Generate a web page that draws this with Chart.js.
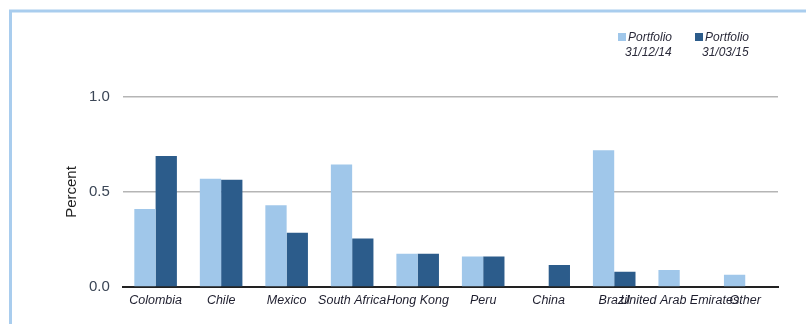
<!DOCTYPE html>
<html>
<head>
<meta charset="utf-8">
<script src="https://cdn.jsdelivr.net/npm/chart.js@4"></script>
<style>
    html, body { margin: 0; padding: 0; background: #fff; }
    #wrap { width: 806px; height: 324px; position: relative; }
</style>
</head>
<body>
<div id="wrap"><canvas id="country_chart"></canvas></div>
<script>
const countries = ['Colombia', 'Chile', 'Mexico', 'South Africa', 'Hong Kong', 'Peru', 'China', 'Brazil', 'United Arab Emirates', 'Other'];
const portfolioDec14 = [0.41, 0.57, 0.43, 0.645, 0.175, 0.16, 0, 0.72, 0.09, 0.064];
const portfolioMar15 = [0.69, 0.565, 0.285, 0.255, 0.175, 0.16, 0.116, 0.08, 0, 0];
const seriesLabels = [['Portfolio', '31/12/14'], ['Portfolio', '31/03/15']];
const yTicks = [0, 0.5, 1.0];

const lightBlue = '#a0c7ea';
const darkBlue = '#2c5c8b';

// frame around the chart + two line legend at top right
const framePlugin = {
    id: 'frame',
    beforeDraw: (chart) => {
        const ctx = chart.ctx;
        ctx.save();
        ctx.strokeStyle = '#a9cdee';
        ctx.lineWidth = 3;
        ctx.beginPath();
        ctx.moveTo(10.5, 324);
        ctx.lineTo(10.5, 11);
        ctx.lineTo(806, 11);
        ctx.stroke();
        ctx.restore();
    },
    afterDraw: (chart) => {
        const ctx = chart.ctx;
        const items = [
            { x: 618, color: lightBlue, text: seriesLabels[0] },
            { x: 695, color: darkBlue, text: seriesLabels[1] }
        ];
        ctx.save();
        ctx.font = 'italic 12px "Liberation Sans", Arial, sans-serif';
        ctx.textBaseline = 'middle';
        ctx.textAlign = 'left';
        items.forEach(it => {
            ctx.fillStyle = it.color;
            ctx.fillRect(it.x, 33, 8, 8);
            ctx.fillStyle = '#2a2a3a';
            ctx.fillText(it.text[0], it.x + 10, 38);
            ctx.fillText(it.text[1], it.x + 7, 53);
        });
        ctx.restore();
    }
};

const chartData = {
    labels: countries,
    datasets: [
        {
            label: seriesLabels[0].join(' '),
            data: portfolioDec14,
            backgroundColor: lightBlue,
            categoryPercentage: 0.65,
            barPercentage: 1.0
        },
        {
            label: seriesLabels[1].join(' '),
            data: portfolioMar15,
            backgroundColor: darkBlue,
            categoryPercentage: 0.65,
            barPercentage: 1.0
        }
    ]
};

const chartOptions = {
    responsive: true,
    maintainAspectRatio: false,
    animation: false,
    layout: {
        padding: { top: 97, right: 28, bottom: 10, left: 63 }
    },
    plugins: {
        legend: { display: false },
        tooltip: { enabled: false }
    },
    scales: {
        x: {
            grid: { display: false, drawTicks: false },
            border: { display: true, color: '#222', width: 2 },
            ticks: {
                autoSkip: false,
                maxRotation: 0,
                minRotation: 0,
                padding: 6,
                color: '#1e1e2e',
                font: { size: 12.5, style: 'italic', family: '"Liberation Sans", Arial, sans-serif' }
            }
        },
        y: {
            min: 0,
            max: 1.0,
            afterBuildTicks: (axis) => {
                axis.ticks = yTicks.map(v => ({ value: v }));
            },
            grid: {
                drawTicks: false,
                color: (c) => c.tick.value === 0 ? 'rgba(0,0,0,0)' : '#b5b5b5',
                lineWidth: 1.5
            },
            border: { display: false },
            ticks: {
                padding: 13,
                color: '#3b4656',
                font: { size: 15, family: '"Liberation Sans", Arial, sans-serif' },
                callback: (v) => Number(v).toFixed(1)
            },
            title: {
                display: true,
                text: 'Percent',
                color: '#222',
                padding: { top: 0, bottom: -5 },
                font: { size: 15, family: '"Liberation Sans", Arial, sans-serif' }
            }
        }
    }
};

new Chart(document.getElementById('country_chart'), {
    type: 'bar',
    data: chartData,
    options: chartOptions,
    plugins: [framePlugin]
});
</script>
</body>
</html>
